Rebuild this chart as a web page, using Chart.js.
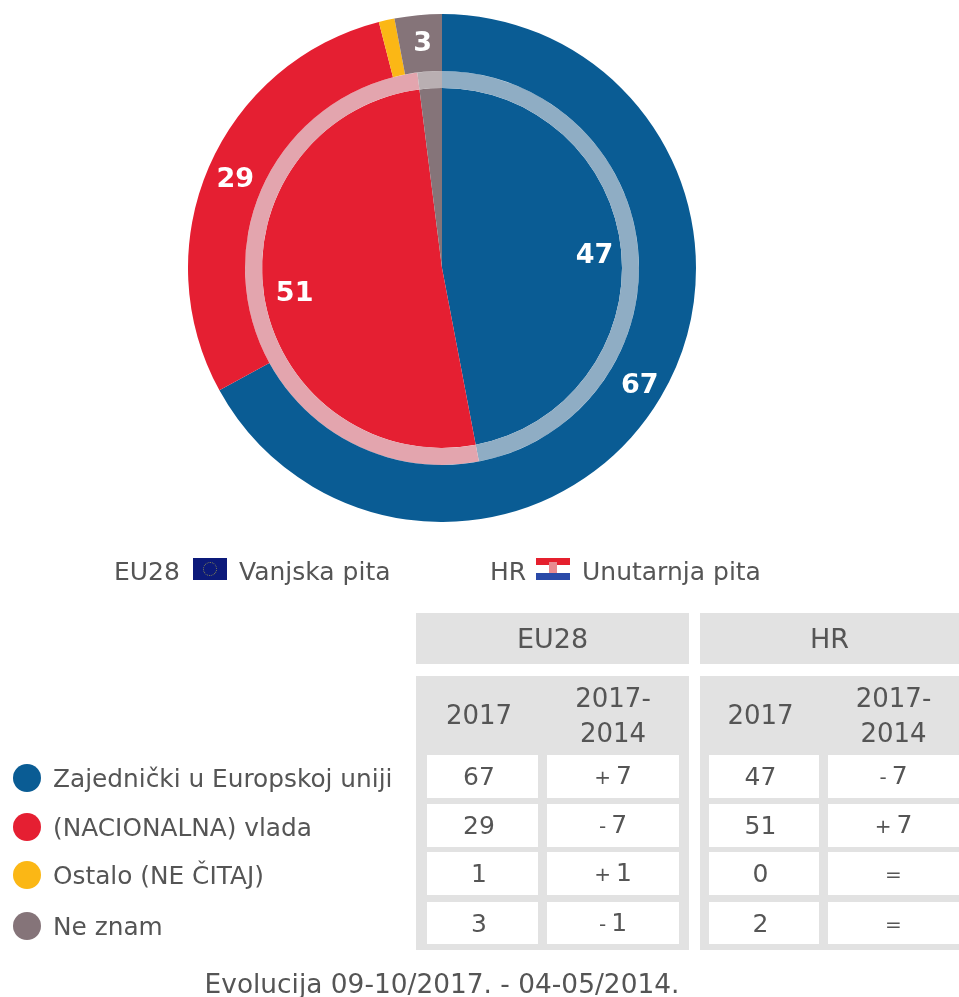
<!DOCTYPE html>
<html>
<head>
<meta charset="utf-8">
<script src="https://cdn.jsdelivr.net/npm/chart.js@4"></script>
<style>
  html, body { margin: 0; padding: 0; background: #fff; }
  body { width: 959px; height: 997px; position: relative; overflow: hidden;
         font-family: "DejaVu Sans", sans-serif; color: #555; }
  #pieWrap { position: absolute; left: 188px; top: 14px; width: 508px; height: 508px; filter: blur(0.6px); }
  .txt { position: absolute; white-space: nowrap; transform: translateY(-50%); filter: blur(0.6px); }
  .dot { position: absolute; left: 13px; width: 28px; height: 28px; border-radius: 50%; transform: translateY(-50%); filter: blur(0.6px); }
  .box { position: absolute; display: flex; align-items: center; justify-content: center;
         text-align: center; box-sizing: border-box; }
  .box span { filter: blur(0.6px); }
  .box small { font-size: 20px; }
  .col1 { padding-right: 7px; }
  .grey { background: #e2e2e2; }
  .white { background: #fff; }
  .flag { position: absolute; filter: blur(0.6px); }
</style>
</head>
<body>
<div id="pieWrap"><canvas id="pie" width="508" height="508"></canvas></div>
<div id="extras"></div>
<script>
const categories = ['Zajednički u Europskoj uniji', '(NACIONALNA) vlada', 'Ostalo (NE ČITAJ)', 'Ne znam'];
const eu2017 = [67, 29, 1, 3];
const euDiff = ['+ 7', '- 7', '+ 1', '- 1'];
const hr2017 = [47, 51, 0, 2];
const hrDiff = ['- 7', '+ 7', '=', '='];
const colors = ['#0a5c94', '#e51f32', '#fbb715', '#857479'];
const ringColors = ['#8fadc4', '#e3a5ae', '#f7d58a', '#b9afb2'];

// white numbers on the slices, small ones stay unlabelled like in the original
const sliceLabels = {
  id: 'sliceLabels',
  afterDatasetsDraw(c) {
    const ctx = c.ctx;
    ctx.save();
    ctx.fillStyle = '#fff';
    ctx.font = 'bold 27px "DejaVu Sans"';
    ctx.textAlign = 'center';
    ctx.textBaseline = 'middle';
    [0, 2].forEach(dsIdx => {
      c.getDatasetMeta(dsIdx).data.forEach((arc, i) => {
        let val = c.data.datasets[dsIdx].data[i];
        if (val < 3) return;
        let p = arc.getProps(['startAngle', 'endAngle', 'outerRadius', 'innerRadius', 'x', 'y'], true);
        let mid = (p.startAngle + p.endAngle) / 2;
        let r = dsIdx === 0 ? (p.innerRadius + p.outerRadius) / 2 + 2 : p.outerRadius * 0.84;
        ctx.fillText(val, p.x + Math.cos(mid) * r + 2, p.y + Math.sin(mid) * r + 2);
      });
    });
    ctx.restore();
  }
};

new Chart(document.getElementById('pie'), {
  type: 'doughnut',
  data: {
    labels: categories,
    datasets: [
      { label: 'EU28', data: eu2017, backgroundColor: colors, borderWidth: 0, weight: 57 },
      { label: 'ring', data: hr2017, backgroundColor: ringColors, borderWidth: 0, weight: 17 },
      { label: 'HR', data: hr2017, backgroundColor: colors, borderWidth: 0, weight: 180 }
    ]
  },
  options: {
    responsive: false,
    animation: false,
    cutout: 0,
    layout: { padding: 0 },
    plugins: { legend: { display: false }, tooltip: { enabled: false } }
  },
  plugins: [sliceLabels]
});

const extras = document.getElementById('extras');

function addText(text, x, y, size) {
  let el = document.createElement('div');
  el.className = 'txt';
  el.textContent = text;
  el.style.left = x + 'px';
  el.style.top = y + 'px';
  el.style.fontSize = size + 'px';
  extras.appendChild(el);
  return el;
}

function addBox(cls, x0, y0, x1, y1, html, size) {
  let el = document.createElement('div');
  el.className = 'box ' + cls;
  el.style.cssText = `left:${x0}px;top:${y0}px;width:${x1 - x0}px;height:${y1 - y0}px;font-size:${size}px;line-height:35px`;
  if (html !== '') el.innerHTML = '<span>' + html + '</span>';
  extras.appendChild(el);
}

// plus and equals signs are small in the original
function diffHtml(d) {
  let parts = d.split(' ');
  if (parts.length === 1) return '<small>' + d + '</small>';
  return '<small>' + parts[0] + '</small>&#8201;' + parts[1];
}

// series key above the table
addText('EU28', 114, 571, 25);
addText('Vanjska pita', 239, 571, 25);
addText('HR', 490, 571, 25);
addText('Unutarnja pita', 582, 571, 25);

let eu = document.createElement('div');
eu.className = 'flag';
eu.style.cssText = 'left:193px;top:558px;width:34px;height:22px;background:#0c1a7a';
eu.innerHTML = '<div style="position:absolute;left:10px;top:4px;width:12px;height:12px;border-radius:50%;border:1px dotted #8a8a50"></div>';
extras.appendChild(eu);

let hr = document.createElement('div');
hr.className = 'flag';
hr.style.cssText = 'left:536px;top:558px;width:34px;height:22px;background:linear-gradient(#e5202e 0 7px,#fff 7px 15px,#2a4aa8 15px 22px)';
hr.innerHTML = '<div style="position:absolute;left:13px;top:4px;width:8px;height:11px;background:#e88a90"></div>';
extras.appendChild(hr);

// legend
const legendY = [778, 827, 875, 926];
categories.forEach((name, i) => {
  let d = document.createElement('div');
  d.className = 'dot';
  d.style.top = legendY[i] + 'px';
  d.style.background = colors[i];
  extras.appendChild(d);
  addText(name, 53, legendY[i], 24.8);
});

// table
function addGroup(title, x0, x1, col1, col2, vals, diffs) {
  addBox('grey', x0, 613, x1, 664, title, 27);
  addBox('grey', x0, 676, x1, 950, '', 26);
  addBox('col1', col1[0], 676, col1[1], 755, '2017', 26);
  addBox('', col2[0], 676, col2[1], 755, '2017-<br>2014', 26);
  const rows = [[755, 798], [804, 847], [852, 895], [902, 944]];
  rows.forEach((r, i) => {
    addBox('white col1', col1[0], r[0], col1[1], r[1], vals[i], 25);
    addBox('white', col2[0], r[0], col2[1], r[1], diffHtml(diffs[i]), 25);
  });
}
addGroup('EU28', 416, 689, [427, 538], [547, 679], eu2017, euDiff);
addGroup('HR', 700, 959, [709, 819], [828, 959], hr2017, hrDiff);

let cap = addText('Evolucija 09-10/2017. - 04-05/2014.', 442, 983, 26.4);
cap.style.transform = 'translate(-50%,-50%)';
</script>
</body>
</html>
